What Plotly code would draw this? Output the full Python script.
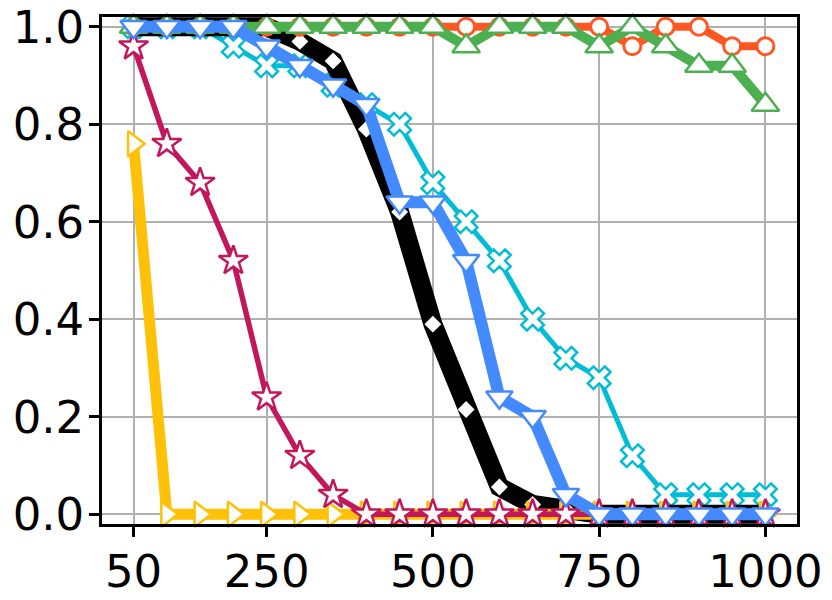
import plotly.graph_objects as go

x_vals = [50, 100, 150, 200, 250, 300, 350, 400, 450, 500,
          550, 600, 650, 700, 750, 800, 850, 900, 950, 1000]

orange_vals = [1, 1, 1, 1, 1, 1, 1, 1, 1, 1,
               1, 1, 1, 1, 1, 0.96, 1, 1, 0.96, 0.96]
green_vals = [1, 1, 1, 1, 1, 1, 1, 1, 1, 1,
              0.96, 1, 1, 1, 0.96, 1, 0.96, 0.92, 0.92, 0.84]
black_vals = [1, 1, 1, 1, 1, 0.97, 0.93, 0.79, 0.62, 0.39,
              0.215, 0.056, 0.02, 0.01, 0, 0, 0, 0, 0, 0]
blue_vals = [1, 1, 1, 1, 0.96, 0.92, 0.88, 0.84, 0.64, 0.64,
             0.52, 0.24, 0.2, 0.04, 0, 0, 0, 0, 0, 0]
cyan_vals = [1, 1, 1, 0.96, 0.92, 0.92, 0.88, 0.84, 0.8, 0.68,
             0.6, 0.52, 0.4, 0.32, 0.28, 0.12, 0.04, 0.04, 0.04, 0.04]
crimson_vals = [0.96, 0.76, 0.68, 0.52, 0.24, 0.12, 0.04, 0, 0, 0,
                0, 0, 0, 0, 0, 0, 0, 0, 0, 0]
yellow_vals = [0.76, 0, 0, 0, 0, 0, 0, 0, 0, 0,
               0, 0, 0, 0, 0, 0, 0, 0, 0, 0]

x_ticks = [50, 250, 500, 750, 1000]
y_ticks = [0.0, 0.2, 0.4, 0.6, 0.8, 1.0]

# (values, color, line width, symbol, marker size, marker edge)
series = [
    (cyan_vals, "#00BCD4", 5, "x", 20, 2.5),
    (black_vals, "#000000", 19, "diamond", 13, 0),
    (orange_vals, "#FF5722", 8, "circle", 17, 3),
    (green_vals, "#4CAF50", 10, "triangle-up", 24, 2.5),
    (yellow_vals, "#FFC107", 11, "triangle-right", 22, 2.5),
    (crimson_vals, "#C2185B", 5.5, "star", 22, 2.5),
    (blue_vals, "#448AFF", 12, "triangle-down", 23, 2.5),
]

fig = go.Figure()
for vals, color, lw, sym, msize, mlw in series:
    fig.add_trace(go.Scatter(
        x=x_vals, y=vals, mode="lines+markers",
        line=dict(color=color, width=lw),
        marker=dict(symbol=sym, size=msize, color="white",
                    line=dict(color=color, width=mlw)),
        showlegend=False, cliponaxis=False,
    ))

axis_common = dict(
    showgrid=True, gridcolor="#b0b0b0", gridwidth=2,
    showline=True, linecolor="black", linewidth=2.5, mirror=True,
    ticks="outside", ticklen=10, tickwidth=2.5, tickcolor="black",
    zeroline=False, automargin=False, ticklabeloverflow="allow",
    tickfont=dict(family="DejaVu Sans", size=45, color="black"),
)

fig.update_xaxes(range=[2.5, 1047.5], tickvals=x_ticks,
                 ticktext=[str(v) for v in x_ticks],
                 ticklabelstandoff=-4, **axis_common)
fig.update_yaxes(range=[-0.02, 1.02], tickvals=y_ticks,
                 ticktext=[f"{v:.1f}" for v in y_ticks],
                 ticklabelstandoff=-4, **axis_common)

fig.update_layout(
    width=832, height=600,
    margin=dict(l=102, r=35, t=17, b=76),
    plot_bgcolor="white", paper_bgcolor="white",
)

# remove the default 8px page margin so the figure fills the window
fig.write_html("out.html",
               config={"displayModeBar": False},
               post_script="document.body.style.margin='0';")
